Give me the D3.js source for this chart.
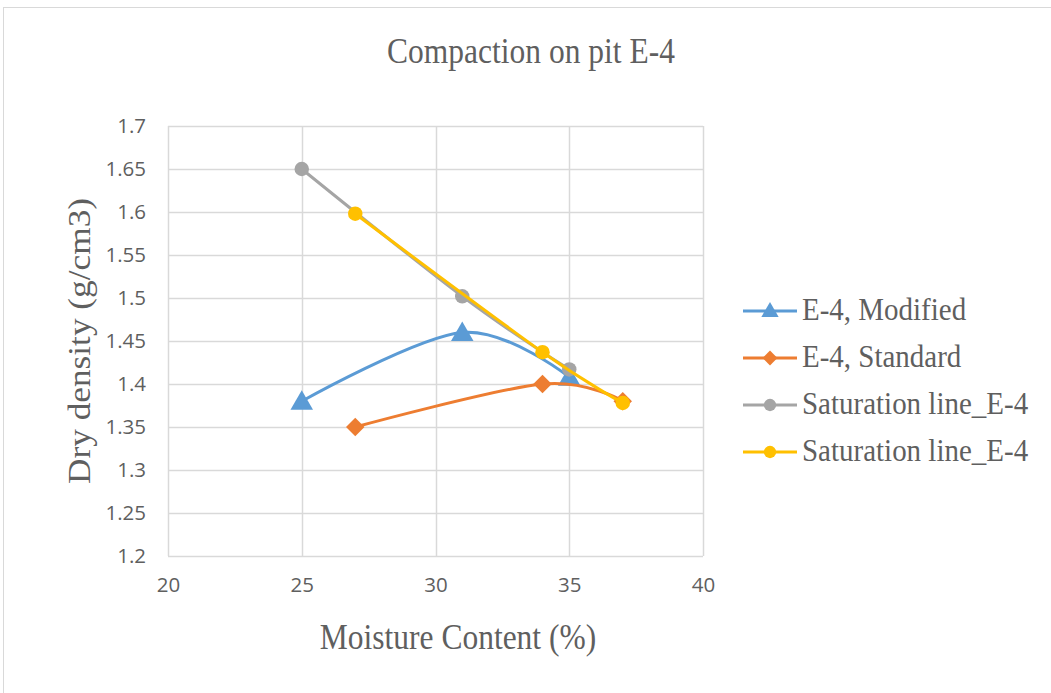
<!DOCTYPE html>
<html>
<head>
<meta charset="utf-8">
<script src="https://cdn.jsdelivr.net/npm/d3@7"></script>
<style>
  body { margin: 0; background: #fff; }
  svg { display: block; }
</style>
</head>
<body>
<svg id="chart" width="1051" height="693"></svg>
<script>
// data
const modifiedX = [25, 31, 35]
const modifiedY = [1.38, 1.46, 1.408]
const standardX = [27, 34, 37]
const standardY = [1.35, 1.40, 1.38]
const satGrayX = [25, 31, 35]
const satGrayY = [1.65, 1.502, 1.417]
const satYellowX = [27, 34, 37]
const satYellowY = [1.598, 1.437, 1.378]
const xTicks = [20, 25, 30, 35, 40]
const yTicks = [1.2, 1.25, 1.3, 1.35, 1.4, 1.45, 1.5, 1.55, 1.6, 1.65, 1.7]

const series = [
    { name: "E-4, Modified", xs: modifiedX, ys: modifiedY, color: "#5B9BD5", marker: "triangle" },
    { name: "E-4, Standard", xs: standardX, ys: standardY, color: "#ED7D31", marker: "diamond" },
    { name: "Saturation line_E-4", xs: satGrayX, ys: satGrayY, color: "#A5A5A5", marker: "circle" },
    { name: "Saturation line_E-4", xs: satYellowX, ys: satYellowY, color: "#FFC000", marker: "circle" }
]

const plot = { left: 168, right: 703, top: 126, bottom: 556 }
const textColor = "#5f5f5f"
const gridColor = "#d9d9d9"
const serif = "'Liberation Serif', 'Times New Roman', serif"
const sans = "'Open Sans', 'Liberation Sans', sans-serif"
const stretch = 1.12   // the reference text is a bit taller than wide

const svg = d3.select("#chart")

// chart border
svg.append("rect")
    .attr("x", 3.5).attr("y", 7.5)
    .attr("width", 1060).attr("height", 700)
    .attr("fill", "#fff")
    .attr("stroke", "#d9d9d9")
    .attr("stroke-width", 1)

const x = d3.scaleLinear().domain([20, 40]).range([plot.left, plot.right])
const y = d3.scaleLinear().domain([1.2, 1.7]).range([plot.bottom, plot.top])

// gridlines
svg.append("g")
    .selectAll("line")
    .data(yTicks)
    .join("line")
    .attr("x1", plot.left).attr("x2", plot.right)
    .attr("y1", d => Math.round(y(d)) + 0.5).attr("y2", d => Math.round(y(d)) + 0.5)
    .attr("stroke", gridColor).attr("stroke-width", 1.5)

svg.append("g")
    .selectAll("line")
    .data(xTicks)
    .join("line")
    .attr("y1", plot.top).attr("y2", plot.bottom)
    .attr("x1", d => Math.round(x(d)) + 0.5).attr("x2", d => Math.round(x(d)) + 0.5)
    .attr("stroke", gridColor).attr("stroke-width", 1.5)

// axes (labels only, lines come from the grid)
const xAxis = svg.append("g")
    .attr("transform", `translate(0,${plot.bottom})`)
    .call(d3.axisBottom(x).tickValues(xTicks).tickSize(0).tickPadding(21))
xAxis.select(".domain").remove()
xAxis.selectAll("text")
    .attr("fill", textColor)
    .style("font-family", sans)
    .style("font-size", "20.5px")

const yAxis = svg.append("g")
    .attr("transform", `translate(${plot.left},0)`)
    .call(d3.axisLeft(y).tickValues(yTicks).tickSize(0).tickPadding(22).tickFormat(d3.format("")))
yAxis.select(".domain").remove()
yAxis.selectAll("text")
    .attr("fill", textColor)
    .style("font-family", sans)
    .style("font-size", "20.5px")

const label = (tx, ty, rot, size, txt) => svg.append("text")
    .attr("transform", rot
        ? `translate(${tx},${ty}) rotate(-90) scale(${stretch},1)`
        : `translate(${tx},${ty}) scale(1,${stretch})`)
    .attr("text-anchor", "middle")
    .attr("fill", textColor)
    .style("font-family", serif)
    .style("font-size", size + "px")
    .text(txt)

// titles
label(531, 63, false, 31.5, "Compaction on pit E-4")
label(458, 649, false, 31.5, "Moisture Content (%)")
label(90, 341, true, 31.5, "Dry density (g/cm3)")

const symbolType = (m) => m === "triangle" ? d3.symbolTriangle : m === "diamond" ? d3.symbolSquare : d3.symbolCircle
const markerRotate = (m) => m === "diamond" ? " rotate(45)" : ""
const markerSize = { triangle: 220, diamond: 170, circle: 165 }
const legendSize = { triangle: 130, diamond: 110, circle: 120 }

const line = d3.line()
    .x(d => x(d[0]))
    .y(d => y(d[1]))
    .curve(d3.curveCatmullRom.alpha(0))

series.forEach(s => {
    const pts = s.xs.map((v, i) => [v, s.ys[i]])
    const g = svg.append("g")
    g.append("path")
        .datum(pts)
        .attr("fill", "none")
        .attr("stroke", s.color)
        .attr("stroke-width", 3)
        .attr("stroke-linejoin", "round")
        .attr("stroke-linecap", "round")
        .attr("d", line)
    g.selectAll("path.marker")
        .data(pts)
        .join("path")
        .classed("marker", true)
        .attr("d", d3.symbol().type(symbolType(s.marker)).size(markerSize[s.marker]))
        .attr("transform", d => `translate(${x(d[0])},${y(d[1]) + (s.marker === "triangle" ? 2 : 0)})${markerRotate(s.marker)}`)
        .attr("fill", s.color)
})

// legend
const legend = svg.append("g")
    .selectAll("g")
    .data(series)
    .join("g")
    .attr("transform", (d, i) => `translate(743,${311 + i * 47})`)

legend.append("line")
    .attr("x1", 0).attr("x2", 54)
    .attr("stroke", d => d.color)
    .attr("stroke-width", 3)

legend.append("path")
    .attr("d", d => d3.symbol().type(symbolType(d.marker)).size(legendSize[d.marker])())
    .attr("transform", d => `translate(27,${d.marker === "triangle" ? 1 : 0})${markerRotate(d.marker)}`)
    .attr("fill", d => d.color)

legend.append("text")
    .attr("transform", `translate(59,9) scale(1,${stretch})`)
    .attr("fill", textColor)
    .style("font-family", serif)
    .style("font-size", "29px")
    .text(d => d.name)
</script>
</body>
</html>
